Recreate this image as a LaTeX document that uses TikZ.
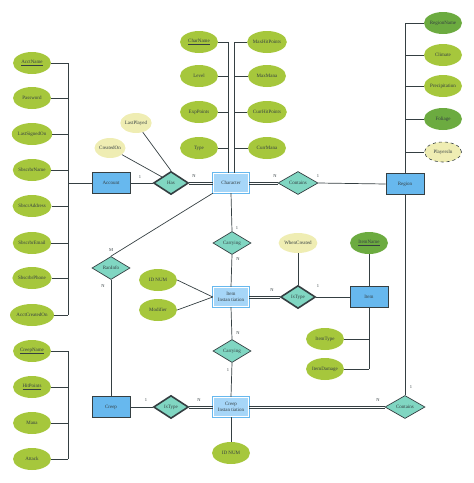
\documentclass[tikz,border=0pt]{standalone}
\usepackage{fontspec}
\setmainfont{Liberation Serif}
\usetikzlibrary{shapes.geometric}
\definecolor{attrgreen}{HTML}{A6C73C}
\definecolor{keygreen}{HTML}{6CAB40}
\definecolor{derived}{HTML}{EFEDB3}
\definecolor{entblue}{HTML}{67B8EE}
\definecolor{weakblue}{HTML}{A6D6F8}
\definecolor{relteal}{HTML}{80D6C2}
\definecolor{edge}{HTML}{353F42}
\begin{document}
\begin{tikzpicture}[x=1pt, y=-1pt,
  attr/.style={ellipse, fill=attrgreen, minimum width=38pt, minimum height=22pt, inner sep=0pt, font=\fontsize{5}{6}\selectfont, text=edge},
  keyattr/.style={attr, fill=keygreen},
  derattr/.style={attr, fill=derived, minimum width=31pt, minimum height=20pt},
  entity/.style={draw=edge, line width=0.8pt, fill=entblue, minimum width=38pt, minimum height=21pt, inner sep=0pt, font=\fontsize{5}{6}\selectfont, text=edge},
  weak/.style={preaction={draw=entblue, line width=2.8pt}, draw=white, line width=1.4pt, fill=weakblue, minimum width=35pt, minimum height=19pt, inner sep=0pt, align=center, font=\fontsize{5}{5.5}\selectfont, text=edge},
  rel/.style={diamond, aspect=1.6, draw=edge, line width=0.7pt, fill=relteal, minimum width=38pt, minimum height=23pt, inner sep=0pt, font=\fontsize{5}{6}\selectfont, text=edge},
  idrel/.style={rel, line width=1.6pt, minimum width=35pt},
  conn/.style={draw=edge, line width=0.7pt},
  card/.style={font=\fontsize{4.5}{5}\selectfont, text=edge, inner sep=0pt}
]
\useasboundingbox (0,0) rectangle (474,483);

% entities
\node[entity] (account) at (111,183) {Account};
\node[entity] (creep) at (111,407) {Creep};
\node[entity] (region) at (405,184) {Region};
\node[entity] (item) at (369,297) {Item};
\node[weak] (character) at (231,183) {Character};
\node[weak] (iteminst) at (231,297) {Item\\Instan tiation};
\node[weak] (creepinst) at (231,407) {Creep\\Instan tiation};

% relationships
\node[idrel] (has) at (171,183) {Has};
\node[rel, minimum width=40pt] (containsa) at (298,183) {Contains};
\node[rel] (carryinga) at (232,243) {Carrying};
\node[rel] (carryingb) at (232,351) {Carrying};
\node[idrel] (istypea) at (298,297) {IsType};
\node[idrel] (istypeb) at (171,407) {IsType};
\node[rel, minimum width=40pt] (containsb) at (405,407) {Contains};
\node[rel] (raninfo) at (111,268) {RanInfo};

% account attributes
\foreach \n/\t/\y in {1/{\underline{AcctName}}/63, 2/Password/98, 3/LastSignedOn/134, 4/SbscrbrName/170,
  5/SbscrAddress/206, 6/SbscrbrEmail/243, 7/SbscrbrPhone/278, 8/AcctCreatedOn/315} {
  \node[attr] (acc\n) at (32,\y) {\t};
  \draw[conn] (acc\n.east) -- (68,\y);
}
\draw[conn] (68,63) -- (68,315);
\draw[conn] (68,183) -- (account.west);

% creep attributes
\foreach \n/\t/\y in {1/{\underline{CreepName}}/351, 2/{\underline{HitPoints}}/387, 3/Mana/423, 4/Attack/459} {
  \node[attr] (cre\n) at (32,\y) {\t};
  \draw[conn] (cre\n.east) -- (68,\y);
}
\draw[conn] (68,351) -- (68,459);

% character attributes
\coordinate (cbusl) at (228,42);
\coordinate (cbusr) at (234,42);
\foreach \n/\t/\y in {1/{\underline{CharName}}/42, 2/Level/76, 3/ExpPoints/112, 4/Type/148} {
  \node[attr] (chl\n) at (199,\y) {\t};
  \draw[conn] (chl\n.east) -- (chl\n.east -| cbusl);
}
\foreach \n/\t/\y in {1/MaxHitPoints/42, 2/MaxMana/76, 3/CurrHitPoints/112, 4/CurrMana/148} {
  \node[attr] (chr\n) at (267,\y) {\t};
  \draw[conn] (chr\n.west) -- (chr\n.west -| cbusr);
}
\draw[conn] (cbusl) -- (cbusl |- character.north);
\draw[conn] (cbusr) -- (cbusr |- character.north);

% region attributes
\node[keyattr] (reg1) at (443,23) {RegionName};
\node[attr] (reg2) at (443,55) {Climate};
\node[attr] (reg3) at (443,86) {Precipitation};
\node[keyattr] (reg4) at (443,119) {Foliage};
\node[derattr, draw=edge, dashed, line width=0.6pt, minimum width=37pt] (reg5) at (443,152) {PlayersIn};
\foreach \n in {1,...,5} {
  \draw[conn] (reg\n.west) -- (reg\n.west -| region.north);
}
\draw[conn] (region.north |- reg1) -- (region.north);

% other attributes
\node[derattr] (lastplayed) at (136,123) {LastPlayed};
\node[derattr] (createdon) at (110,148) {CreatedOn};
\node[attr] (idnum) at (158,280) {ID NUM};
\node[attr] (modifier) at (158,310) {Modifier};
\node[derattr, minimum width=36pt] (whencreated) at (298,243) {WhenCreated};
\node[keyattr] (itemname) at (369,243) {\underline{ItemName}};
\node[attr] (itemtype) at (325,339) {ItemType};
\node[attr] (itemdamage) at (325,369) {ItemDamage};
\node[attr] (idnumb) at (231,453) {ID NUM};

% connectors (total participation drawn as two lines)
\draw[conn] (account.east) -- (has.west);
\foreach \s in {-1.1pt,1.1pt} {
  \draw[conn] ([yshift=\s]has.east) -- ([yshift=\s]character.west);
  \draw[conn] ([yshift=\s]character.east) -- ([yshift=\s]containsa.west);
  \draw[conn] ([yshift=\s]iteminst.east) -- ([yshift=\s]istypea.west);
  \draw[conn] ([yshift=\s]istypeb.east) -- ([yshift=\s]creepinst.west);
  \draw[conn] ([yshift=\s]creepinst.east) -- ([yshift=\s]containsb.west);
}
\draw[conn] (lastplayed) -- (has.north);
\draw[conn] (createdon) -- (has.north west);
\draw[conn] (containsa.east) -- (region.west);
\draw[conn] (character.south) -- (carryinga.north);
\draw[conn] (carryinga.south) -- (iteminst.north);
\draw[conn] (iteminst.south) -- (carryingb.north);
\draw[conn] (carryingb.south) -- (creepinst.north);
\draw[conn] (creepinst.south) -- (idnumb.north);
\draw[conn] (idnum.east) -- (iteminst.west);
\draw[conn] (modifier.east) -- (iteminst.west);
\draw[conn] (istypea.east) -- (item.west);
\draw[conn] (whencreated) -- (istypea.north);
\draw[conn] (itemname) -- (item.north);
\draw[conn] (item.south) -- (item.south |- itemdamage);
\draw[conn] (itemtype.east) -- (itemtype.east -| item.south);
\draw[conn] (itemdamage.east) -- (itemdamage.east -| item.south);
\draw[conn] (creep.east) -- (istypeb.west);
\draw[conn] (region.south) -- (containsb.north);
\draw[conn] (character.south west) -- (raninfo.north);
\draw[conn] (raninfo.south) -- (creep.north);

% cardinalities
\node[card] (c1) at (140,177) {1};
\node[card] (c2) at (194,176) {N};
\node[card] (c3) at (275,176) {N};
\node[card] (c4) at (318,176) {1};
\node[card] (c5) at (237,228) {1};
\node[card] (c6) at (238,259) {N};
\node[card] (c7) at (272,290) {N};
\node[card] (c8) at (318,286) {1};
\node[card] (c9) at (238,333) {N};
\node[card] (c10) at (228,370) {1};
\node[card] (c11) at (146,400) {1};
\node[card] (c12) at (199,400) {N};
\node[card] (c13) at (378,400) {N};
\node[card] (c14) at (411,387) {1};
\node[card] (c15) at (111,250) {M};
\node[card] (c16) at (103,286) {N};
\end{tikzpicture}
\end{document}
